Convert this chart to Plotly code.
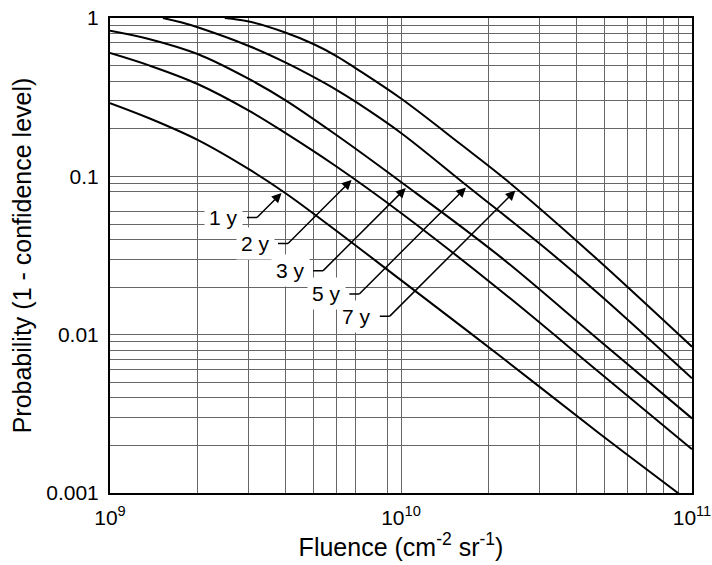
import numpy as np
import plotly.graph_objects as go

# Probability (1 - confidence level) of exceeding a given fluence, per mission duration
durations = ["1 y", "2 y", "3 y", "5 y", "7 y"]

fluence_1y = [1.0e9, 1.37e9, 2.0e9, 3.0e9, 4.0e9, 5.7e9, 1.0e10, 2.19e10, 4.83e10, 8.95e10, 1.0e11]
prob_1y = [0.290, 0.232, 0.170, 0.111, 0.0785, 0.0486, 0.0221, 0.00733, 0.00236, 0.00100, 0.00085]

fluence_2y = [1.0e9, 1.37e9, 2.0e9, 3.0e9, 4.0e9, 5.93e9, 1.0e10, 2.19e10, 4.83e10, 1.0e11]
prob_2y = [0.601, 0.50, 0.383, 0.260, 0.188, 0.117, 0.0587, 0.0191, 0.00573, 0.00189]

fluence_3y = [1.0e9, 1.37e9, 2.0e9, 3.0e9, 4.0e9, 5.93e9, 1.0e10, 2.19e10, 4.83e10, 1.0e11]
prob_3y = [0.831, 0.735, 0.592, 0.412, 0.303, 0.185, 0.0921, 0.0311, 0.00912, 0.00296]

fluence_5y = [1.52e9, 1.74e9, 2.0e9, 3.0e9, 4.0e9, 5.0e9, 6.0e9, 7.06e9, 1.0e10, 1.69e10, 3.2e10, 4.83e10, 1.0e11]
prob_5y = [1.0, 0.943, 0.874, 0.666, 0.525, 0.425, 0.352, 0.292, 0.188, 0.0869, 0.0340, 0.0178, 0.00530]

fluence_7y = [2.48e9, 3.0e9, 4.0e9, 5.0e9, 6.0e9, 7.06e9, 1.0e10, 1.6e10, 2.3e10, 4.35e10, 1.0e11]
prob_7y = [1.0, 0.95, 0.81, 0.685, 0.575, 0.476, 0.31, 0.16, 0.0948, 0.0343, 0.00839]

# Fluence at which each label's arrow meets its curve
arrow_fluence = [3.93e9, 6.84e9, 1.05e10, 1.69e10, 2.5e10]

# Axis ticks and grid
x_tick_vals = [1e9, 1e10, 1e11]
x_tick_text = ["10<sup>9</sup>", "10<sup>10</sup>", "10<sup>11</sup>"]
y_tick_vals = [0.001, 0.01, 0.1, 1]
y_tick_text = ["0.001", "0.01", "0.1", "1"]
x_minor_grid = [2e9, 3e9, 4e9, 5e9, 6e9, 7e9, 9e9,
                2e10, 3e10, 4e10, 5e10, 6e10, 7e10, 8e10, 9e10]
y_minor_grid = [0.002, 0.003, 0.004, 0.005, 0.006, 0.007, 0.008, 0.009,
                0.02, 0.03, 0.04, 0.05, 0.06, 0.08, 0.09,
                0.2, 0.3, 0.4, 0.5, 0.6, 0.7, 0.8, 0.9]

curves = [
    (fluence_1y, prob_1y),
    (fluence_2y, prob_2y),
    (fluence_3y, prob_3y),
    (fluence_5y, prob_5y),
    (fluence_7y, prob_7y),
]

# Leader geometry (pixels): diagonal run of each arrow, stub length, label offset
leader_px = [26, 65, 84, 108, 127]
stub_px = 10
label_offset_px = 33

FONT = "Liberation Sans, Arial, Helvetica, sans-serif"
GRID = "#666666"
# arrow-only annotations get a vanishing text box so lines start exactly at their tail
BARE = dict(text="", font=dict(size=1), borderpad=0, borderwidth=0)

fig = go.Figure()
for name, (f, p) in zip(durations, curves):
    fig.add_trace(go.Scatter(
        x=f, y=p, mode="lines", name=name,
        line=dict(color="black", width=2, shape="spline", smoothing=1.0),
        showlegend=False, hoverinfo="skip",
    ))


def tip_point(f, p, tip_f):
    """Point on a curve (log-log interpolation) where the arrow ends."""
    lx = np.log10(tip_f)
    ly = float(np.interp(lx, np.log10(f), np.log10(p)))
    return lx, ly


annotations = []
for name, (f, p), tip_f, d in zip(durations, curves, arrow_fluence, leader_px):
    lx, ly = tip_point(f, p, tip_f)
    # label text on a white box that hides the grid behind it
    annotations.append(dict(
        x=lx, y=ly, xref="x", yref="y",
        xshift=-(d + label_offset_px), yshift=-d,
        text=name, font=dict(family=FONT, size=21, color="black"),
        showarrow=False, bgcolor="white", borderpad=4,
        xanchor="center", yanchor="middle",
    ))
    # short horizontal stub leading into the bend
    annotations.append(dict(
        x=lx, y=ly, xref="x", yref="y",
        xshift=-d, yshift=-d,
        showarrow=True, arrowhead=0, arrowwidth=1.5, arrowcolor="black",
        ax=-stub_px, ay=0, standoff=0, **BARE,
    ))
    # diagonal arrow from the bend up to the curve
    annotations.append(dict(
        x=lx, y=ly, xref="x", yref="y",
        showarrow=True, arrowhead=2, arrowsize=1.3, arrowwidth=1.5,
        arrowcolor="black", ax=-d, ay=d, standoff=2, **BARE,
    ))

fig.update_layout(
    width=712, height=565,
    margin=dict(l=110, r=20, t=18, b=72),
    paper_bgcolor="white", plot_bgcolor="white",
    font=dict(family=FONT, color="black"),
    annotations=annotations,
    xaxis=dict(
        type="log", range=[9, 11], automargin=False,
        tickmode="array", tickvals=x_tick_vals, ticktext=x_tick_text,
        tickfont=dict(size=21), ticks="", ticklabelstandoff=5,
        showgrid=True, gridcolor=GRID, gridwidth=1,
        minor=dict(tickmode="array", tickvals=x_minor_grid, showgrid=True,
                   gridcolor=GRID, gridwidth=1, ticks=""),
        showline=True, linecolor="black", linewidth=2, mirror=True,
        zeroline=False,
        title=dict(text="Fluence (cm<sup>-2</sup> sr<sup>-1</sup>)",
                   font=dict(size=25), standoff=8),
    ),
    yaxis=dict(
        type="log", range=[-3, 0], automargin=False,
        tickmode="array", tickvals=y_tick_vals, ticktext=y_tick_text,
        tickfont=dict(size=21), ticks="", ticklabelstandoff=5,
        showgrid=True, gridcolor=GRID, gridwidth=1,
        minor=dict(tickmode="array", tickvals=y_minor_grid, showgrid=True,
                   gridcolor=GRID, gridwidth=1, ticks=""),
        showline=True, linecolor="black", linewidth=2, mirror=True,
        zeroline=False,
        title=dict(text="Probability (1 - confidence level)",
                   font=dict(size=25), standoff=7),
    ),
)

fig.write_html("out.html")
